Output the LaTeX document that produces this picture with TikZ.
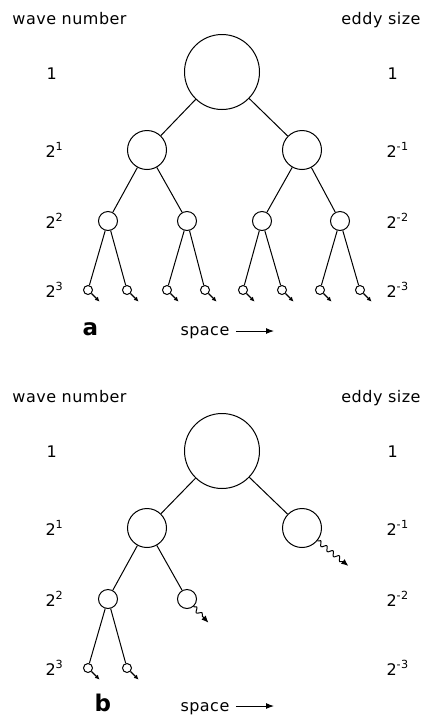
\documentclass[tikz,border=0pt]{standalone}
\usepackage{fontspec}
\setmainfont{DejaVu Sans}[LetterSpace=3]
\usetikzlibrary{arrows.meta,decorations.pathmorphing}

\tikzset{
  eddy/.style={draw,circle,inner sep=0pt,line width=1pt},
  eddyA/.style={eddy,minimum size=75pt},
  eddyB/.style={eddy,minimum size=39pt},
  eddyC/.style={eddy,minimum size=19pt},
  eddyD/.style={eddy,minimum size=9pt},
  lbl/.style={anchor=base west,inner sep=0pt,font=\fontsize{16}{19}\selectfont},
  head/.style={lbl},
  panel/.style={anchor=base west,inner sep=0pt,font=\bfseries\fontsize{23}{26}\selectfont},
  decay/.style={line width=1.1pt,-{Latex[length=4.5pt,width=4.5pt]}},
  wavy/.style={line width=1pt,decorate,
    decoration={snake,segment length=8pt,amplitude=2.2pt,post length=6pt},
    -{Latex[length=7pt,width=6pt]}},
  spacearr/.style={line width=1pt,-{Latex[length=8pt,width=6pt]}}
}

\begin{document}
\begin{tikzpicture}[x=1pt,y=-1pt,line width=1pt]
  \useasboundingbox (0,0) rectangle (422,716);

  % --- a: every eddy splits
  \node[head] (aWave) at (12,24) {wave number};
  \node[head,anchor=base east] (aSize) at (421,24) {eddy size};
  \node[lbl] (aK0) at (46,79) {1};
  \node[lbl] (aK1) at (45,157) {2\textsuperscript{1}};
  \node[lbl] (aK2) at (45,228) {2\textsuperscript{2}};
  \node[lbl] (aK3) at (45,297) {2\textsuperscript{3}};
  \node[lbl] (aS0) at (387,79) {1};
  \node[lbl] (aS1) at (386,157) {2\textsuperscript{-1}};
  \node[lbl] (aS2) at (386,228) {2\textsuperscript{-2}};
  \node[lbl] (aS3) at (386,297) {2\textsuperscript{-3}};

  \node[eddyA] (a) at (222,72) {};
  \node[eddyB] (aL) at (147,150) {};
  \node[eddyB] (aR) at (302,150) {};
  \node[eddyC] (aLL) at (108,221) {};
  \node[eddyC] (aLR) at (187,221) {};
  \node[eddyC] (aRL) at (262,221) {};
  \node[eddyC] (aRR) at (340,221) {};
  \node[eddyD] (aLLL) at (88,290) {};
  \node[eddyD] (aLLR) at (127,290) {};
  \node[eddyD] (aLRL) at (167,290) {};
  \node[eddyD] (aLRR) at (205,290) {};
  \node[eddyD] (aRLL) at (243,290) {};
  \node[eddyD] (aRLR) at (282,290) {};
  \node[eddyD] (aRRL) at (320,290) {};
  \node[eddyD] (aRRR) at (360,290) {};

  \draw (a) -- (aL);
  \draw (a) -- (aR);
  \draw (aL) -- (aLL);
  \draw (aL) -- (aLR);
  \draw (aR) -- (aRL);
  \draw (aR) -- (aRR);
  \draw (aLL) -- (aLLL);
  \draw (aLL) -- (aLLR);
  \draw (aLR) -- (aLRL);
  \draw (aLR) -- (aLRR);
  \draw (aRL) -- (aRLL);
  \draw (aRL) -- (aRLR);
  \draw (aRR) -- (aRRL);
  \draw (aRR) -- (aRRR);

  \draw[decay] (aLLL.-45) -- ++(8,8);
  \draw[decay] (aLLR.-45) -- ++(8,8);
  \draw[decay] (aLRL.-45) -- ++(8,8);
  \draw[decay] (aLRR.-45) -- ++(8,8);
  \draw[decay] (aRLL.-45) -- ++(8,8);
  \draw[decay] (aRLR.-45) -- ++(8,8);
  \draw[decay] (aRRL.-45) -- ++(8,8);
  \draw[decay] (aRRR.-45) -- ++(8,8);

  \node[panel] (aTag) at (82,335) {a};
  \node[lbl] (aSpace) at (180,335) {space};
  \coordinate (aSpaceEnd) at (274,331);
  \draw[spacearr] ([xshift=6pt]aSpace.east |- aSpaceEnd) -- (aSpaceEnd);

  % --- b: some eddies decay early
  \node[head] (bWave) at (12,402) {wave number};
  \node[head,anchor=base east] (bSize) at (421,402) {eddy size};
  \node[lbl] (bK0) at (46,457) {1};
  \node[lbl] (bK1) at (45,535) {2\textsuperscript{1}};
  \node[lbl] (bK2) at (45,606) {2\textsuperscript{2}};
  \node[lbl] (bK3) at (45,675) {2\textsuperscript{3}};
  \node[lbl] (bS0) at (387,457) {1};
  \node[lbl] (bS1) at (386,535) {2\textsuperscript{-1}};
  \node[lbl] (bS2) at (386,606) {2\textsuperscript{-2}};
  \node[lbl] (bS3) at (386,675) {2\textsuperscript{-3}};

  \node[eddyA] (b) at (222,451) {};
  \node[eddyB] (bL) at (147,528) {};
  \node[eddyB] (bR) at (302,528) {};
  \node[eddyC] (bLL) at (108,599) {};
  \node[eddyC] (bLR) at (187,599) {};
  \node[eddyD] (bLLL) at (88,668) {};
  \node[eddyD] (bLLR) at (127,668) {};

  \draw (b) -- (bL);
  \draw (b) -- (bR);
  \draw (bL) -- (bLL);
  \draw (bL) -- (bLR);
  \draw (bLL) -- (bLLL);
  \draw (bLL) -- (bLLR);

  \draw[wavy] (bR.-40) -- ++(31,25);
  \draw[wavy] (bLR.-50) -- ++(15,16);
  \draw[decay] (bLLL.-45) -- ++(8,8);
  \draw[decay] (bLLR.-45) -- ++(8,8);

  \node[panel] (bTag) at (94,711) {b};
  \node[lbl] (bSpace) at (180,711) {space};
  \coordinate (bSpaceEnd) at (274,706);
  \draw[spacearr] ([xshift=6pt]bSpace.east |- bSpaceEnd) -- (bSpaceEnd);
\end{tikzpicture}
\end{document}
